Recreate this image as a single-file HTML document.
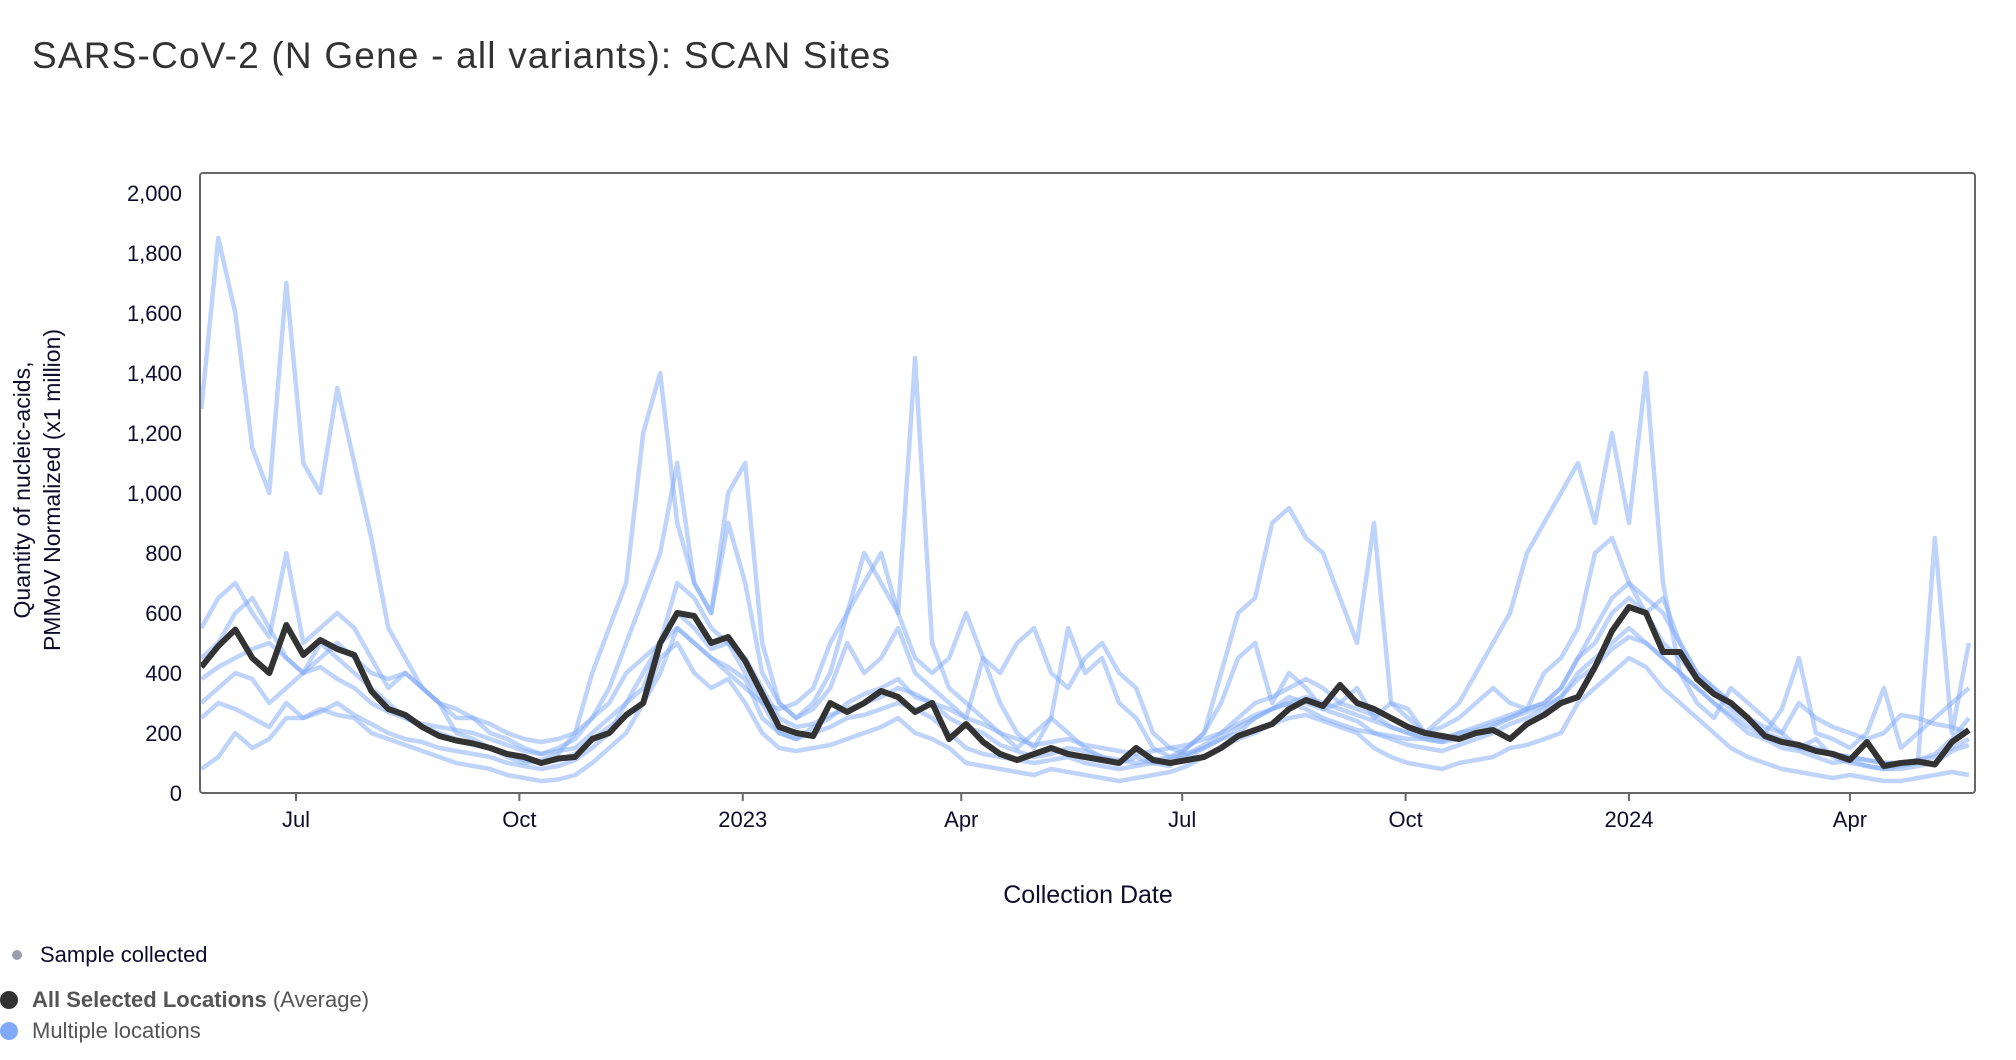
<!DOCTYPE html>
<html><head><meta charset="utf-8">
<style>
html,body{margin:0;padding:0;background:#fff;}
body{width:2016px;height:1060px;overflow:hidden;position:relative;font-family:"Liberation Sans",sans-serif;}
#title{position:absolute;left:32px;top:35px;font-size:37px;letter-spacing:1.2px;color:#333;white-space:nowrap;}
.leg{position:absolute;font-size:22px;white-space:nowrap;}
.dot{position:absolute;border-radius:50%;}
</style></head><body>
<div id="title">SARS-CoV-2 (N Gene - all variants): SCAN Sites</div>
<svg id="chart" width="2016" height="1060" style="position:absolute;left:0;top:0">
  <defs><clipPath id="clip"><rect x="201" y="174" width="1773" height="618"/></clipPath></defs>
  <g id="yticks"></g>
  <g id="xticks"></g>
  <g id="series" clip-path="url(#clip)"></g>
  <rect x="200" y="173" width="1775" height="620" rx="3" fill="none" stroke="#666" stroke-width="2"/>
  <text x="0" y="0" transform="translate(30,490) rotate(-90)" text-anchor="middle" font-size="23" fill="#0d0d2b">Quantity of nucleic-acids,</text>
  <text x="0" y="0" transform="translate(60,490) rotate(-90)" text-anchor="middle" font-size="23" fill="#0d0d2b">PMMoV Normalized (x1 million)</text>
  <text x="1088" y="903" text-anchor="middle" font-size="25" fill="#0d0d2b">Collection Date</text>
</svg>
<div class="dot" style="left:12px;top:950px;width:10px;height:10px;background:#9a9fae"></div>
<div class="leg" style="left:40px;top:942px;color:#0d0d2b">Sample collected</div>
<div class="dot" style="left:0px;top:991px;width:18px;height:18px;background:#333"></div>
<div class="leg" style="left:32px;top:987px;color:#555"><b>All Selected Locations</b> (Average)</div>
<div class="dot" style="left:0px;top:1022px;width:18px;height:18px;background:#80aaf8"></div>
<div class="leg" style="left:32px;top:1018px;color:#555">Multiple locations</div>
<script>
const startDate = ["2022-05-23"];
const stepDays = [7];
const yTicks = [0,200,400,600,800,1000,1200,1400,1600,1800,2000];
const yTickLabels = ["0","200","400","600","800","1,000","1,200","1,400","1,600","1,800","2,000"];
const xTickDates = ["2022-07-01","2022-10-01","2023-01-01","2023-04-01","2023-07-01","2023-10-01","2024-01-01","2024-04-01"];
const xTickLabels = ["Jul","Oct","2023","Apr","Jul","Oct","2024","Apr"];
const avg = [420,490,545,450,400,560,460,510,480,460,340,280,260,220,190,175,165,150,130,120,100,115,120,180,200,260,300,500,600,590,500,520,440,330,220,200,190,300,270,300,340,320,270,300,180,230,170,130,110,130,150,130,120,110,100,150,110,100,110,120,150,190,210,230,280,310,290,360,300,280,250,220,200,190,180,200,210,180,230,260,300,320,420,540,620,600,470,470,380,330,300,250,190,170,160,140,130,110,170,90,100,105,95,170,210];
const s1 = [1280,1850,1600,1150,1000,1700,1100,1000,1350,1100,850,550,450,350,300,200,180,150,120,100,110,130,200,400,550,700,1200,1400,900,700,600,1000,1100,500,300,250,300,400,600,800,700,600,1450,500,350,300,250,200,150,200,250,200,150,120,100,120,100,90,150,200,400,600,650,900,950,850,800,650,500,900,300,250,200,250,300,400,500,600,800,900,1000,1100,900,1200,900,1400,700,400,300,250,350,300,250,200,150,180,120,100,90,80,90,100,850,200,500];
const s2 = [550,650,700,600,520,800,500,550,600,550,450,350,400,350,300,250,250,200,180,150,130,150,180,250,350,500,650,800,1100,700,600,900,700,400,300,250,280,350,500,400,450,550,400,350,300,250,450,300,200,150,250,550,400,450,300,250,150,120,150,200,300,450,500,300,400,350,280,300,350,250,300,280,200,220,250,300,350,300,280,400,450,550,800,850,700,600,650,500,400,350,300,250,200,280,450,200,180,150,200,350,150,200,250,300,350];
const s3 = [80,120,200,150,180,250,250,280,260,250,200,180,160,140,120,100,90,80,60,50,40,45,60,100,150,200,300,450,500,400,350,380,300,200,150,140,150,160,180,200,220,250,200,180,150,100,90,80,70,60,80,70,60,50,40,50,60,70,90,120,150,180,200,230,250,260,240,220,200,150,120,100,90,80,100,110,120,150,160,180,200,300,350,400,450,420,350,300,250,200,150,120,100,80,70,60,50,60,50,40,40,50,60,70,60];
const s4 = [250,300,280,250,220,300,250,270,300,260,230,200,180,170,150,140,130,120,100,90,80,90,110,150,200,300,400,500,600,550,480,500,400,300,200,180,200,220,250,260,280,300,280,250,200,150,130,120,110,100,110,120,100,90,80,90,100,110,120,150,180,220,250,280,320,300,280,260,240,200,180,160,150,140,160,180,200,230,250,280,320,400,450,500,550,500,450,400,350,300,250,200,180,150,140,120,100,110,90,80,80,90,100,140,160];
const s5 = [450,500,600,650,550,450,400,500,450,400,350,300,250,220,200,180,160,150,130,110,100,110,130,180,220,260,300,400,550,500,450,420,380,250,200,180,220,250,300,330,350,380,320,300,250,220,200,160,140,120,130,150,140,120,110,100,110,120,130,160,200,250,300,320,350,380,350,300,280,260,220,200,180,170,200,220,240,260,280,300,350,450,500,600,650,600,500,450,380,330,280,240,200,180,160,150,130,120,110,100,100,110,130,180,250];
const s6 = [380,420,450,480,500,450,400,420,380,350,300,270,250,230,220,210,200,180,160,140,130,140,150,200,250,300,350,500,700,650,550,500,450,350,250,220,230,260,280,300,320,350,330,300,280,250,230,200,180,160,170,180,160,150,140,130,140,150,160,180,200,230,260,280,300,320,300,280,260,240,220,200,190,180,200,210,230,250,270,290,320,380,420,480,520,500,450,400,350,300,260,220,190,170,150,140,130,120,110,100,100,110,120,150,180];
const s7 = [300,350,400,380,300,350,400,450,500,450,400,380,400,350,300,280,250,230,200,180,170,180,200,250,300,400,450,500,550,500,450,400,350,300,280,300,350,500,600,700,800,600,450,400,450,600,450,400,500,550,400,350,450,500,400,350,200,150,130,150,180,200,250,280,300,280,250,230,210,200,190,180,180,170,180,200,220,250,280,300,350,450,550,650,700,650,600,500,400,350,300,250,220,200,300,250,220,200,180,200,260,250,230,220,200];
const blueSeries = [s1,s2,s3,s4,s5,s6,s7];

const NS = "http://www.w3.org/2000/svg";
const X0 = 296, PXDAY = 2.428, Y0 = 793, PXUNIT = 0.3;
const ref = Date.UTC(2022,6,1);
function dayNum(s){const p=s.split("-");return (Date.UTC(+p[0],+p[1]-1,+p[2])-ref)/86400000;}
function xScale(d){return X0 + d*PXDAY;}
function yScale(v){return Y0 - v*PXUNIT;}
const d0 = dayNum(startDate[0]);
function pathFor(arr){return arr.map((v,i)=>(i?"L":"M")+xScale(d0+i*stepDays[0]).toFixed(1)+","+yScale(v).toFixed(1)).join("");}

const yg = document.getElementById("yticks");
yTicks.forEach((v,i)=>{
  const t=document.createElementNS(NS,"text");
  t.setAttribute("x",182);t.setAttribute("y",yScale(v)+8);
  t.setAttribute("text-anchor","end");t.setAttribute("font-size","22");t.setAttribute("fill","#0d0d2b");
  t.textContent=yTickLabels[i];
  
  
  yg.appendChild(t);
});
const xg = document.getElementById("xticks");
xTickDates.forEach((s,i)=>{
  const x=xScale(dayNum(s));
  const l=document.createElementNS(NS,"line");
  l.setAttribute("x1",x);l.setAttribute("x2",x);l.setAttribute("y1",793);l.setAttribute("y2",801);
  l.setAttribute("stroke","#666");l.setAttribute("stroke-width","2");
  
  
  xg.appendChild(l);
  const t=document.createElementNS(NS,"text");
  t.setAttribute("x",x);t.setAttribute("y",827);
  t.setAttribute("text-anchor","middle");t.setAttribute("font-size","22");t.setAttribute("fill","#0d0d2b");
  t.textContent=xTickLabels[i];
  
  
  xg.appendChild(t);
});
const sg = document.getElementById("series");
blueSeries.forEach((arr,i)=>{
  const p=document.createElementNS(NS,"path");
  p.setAttribute("d",pathFor(arr));
  p.setAttribute("fill","none");p.setAttribute("stroke","#80aaf8");p.setAttribute("stroke-opacity","0.5");
  p.setAttribute("stroke-width","4.5");p.setAttribute("stroke-linejoin","round");
  
  
  sg.appendChild(p);
});
const ap=document.createElementNS(NS,"path");
ap.setAttribute("d",pathFor(avg));
ap.setAttribute("fill","none");ap.setAttribute("stroke","#333");ap.setAttribute("stroke-width","6");ap.setAttribute("stroke-linejoin","round");


sg.appendChild(ap);
</script>
</body></html>
